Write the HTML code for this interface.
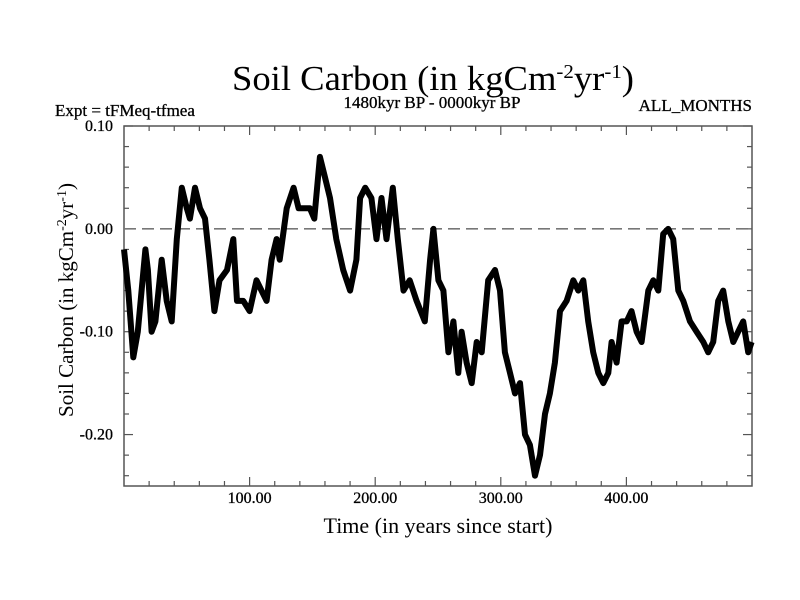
<!DOCTYPE html>
<html><head><meta charset="utf-8"><style>
body{margin:0;background:#fff}
svg{display:block;font-family:"Liberation Serif",serif}
</style></head><body>
<svg id="chart" width="800" height="600">
<text x="433" y="90" font-size="35" text-anchor="middle" textLength="402" lengthAdjust="spacingAndGlyphs">Soil Carbon (in kgCm<tspan dy="-12" font-size="20">-2</tspan><tspan dy="12">yr</tspan><tspan dy="-12" font-size="20">-1</tspan><tspan dy="12">)</tspan></text>
<text x="55" y="116" font-size="17" stroke="#000" stroke-width="0.3">Expt = tFMeq-tfmea</text>
<text x="432" y="108" font-size="17" text-anchor="middle" stroke="#000" stroke-width="0.3">1480kyr BP - 0000kyr BP</text>
<text x="752" y="111" font-size="17" text-anchor="end" stroke="#000" stroke-width="0.3">ALL_MONTHS</text>
<g id="axes"></g>
<g id="plot"></g>
<text x="438" y="533" font-size="22" text-anchor="middle">Time (in years since start)</text>
<text transform="translate(73,300) rotate(-90)" font-size="21" text-anchor="middle">Soil Carbon (in kgCm<tspan dy="-7" font-size="14">-2</tspan><tspan dy="7">yr</tspan><tspan dy="-7" font-size="14">-1</tspan><tspan dy="7">)</tspan></text>
</svg>
<script>
const times=[0,3.4,7.4,11,17,19,22,25,30,34,38,42,46,50,52.5,56.5,60.5,64.5,68,72,76,82,87,90,95,100,105.5,109.5,113.5,117.5,121.5,124,129.5,135,139,144,148,151.5,156,160,164,169,174.5,180,185,188,192,197,201,205,209,214,218,222.5,227.5,233,239.5,243.7,246.3,250.3,254.3,258.3,262.3,266.2,268.8,272.8,276.8,280.8,284.8,290,295.4,299.4,303.3,307.3,311.3,315.3,319.3,323.2,327.2,331.2,335.2,339.1,343.1,347.1,352.4,357.7,361.7,365.7,369.6,373.6,377.6,381.6,385.6,388.2,392.2,396.2,400.2,404.1,408.1,412.1,417.4,421.4,425.4,429.3,433.3,437.3,441.3,445.3,450.6,455.9,461.2,465.1,469.1,473.1,477.1,481.1,485.1,489,493,497,499.7];
const values=[-0.02,-0.06,-0.125,-0.10,-0.02,-0.04,-0.10,-0.09,-0.03,-0.07,-0.09,-0.01,0.04,0.02,0.01,0.04,0.02,0.01,-0.03,-0.08,-0.05,-0.04,-0.01,-0.07,-0.07,-0.08,-0.05,-0.06,-0.07,-0.03,-0.01,-0.03,0.02,0.04,0.02,0.02,0.02,0.01,0.07,0.05,0.03,-0.01,-0.04,-0.06,-0.03,0.03,0.04,0.03,-0.01,0.03,-0.01,0.04,-0.01,-0.06,-0.05,-0.07,-0.09,-0.03,0.0,-0.05,-0.06,-0.12,-0.09,-0.14,-0.10,-0.13,-0.15,-0.11,-0.12,-0.05,-0.04,-0.06,-0.12,-0.14,-0.16,-0.15,-0.20,-0.21,-0.24,-0.22,-0.18,-0.16,-0.13,-0.08,-0.07,-0.05,-0.06,-0.05,-0.09,-0.12,-0.14,-0.15,-0.14,-0.11,-0.13,-0.09,-0.09,-0.08,-0.10,-0.11,-0.06,-0.05,-0.06,-0.005,0.0,-0.01,-0.06,-0.07,-0.09,-0.10,-0.11,-0.12,-0.11,-0.07,-0.06,-0.09,-0.11,-0.10,-0.09,-0.12,-0.11];
const xTicks=[100,200,300,400];
const xTickLabels=["100.00","200.00","300.00","400.00"];
const yTicks=[0.10,0.00,-0.10,-0.20];
const yTickLabels=["0.10","0.00","-0.10","-0.20"];
const X0=124,X1=752,Y0=126,Y1=486,XMIN=0,XMAX=500,YMAX=0.10,YMIN=-0.25;
const xs=t=>X0+(t-XMIN)/(XMAX-XMIN)*(X1-X0);
const ys=v=>Y0+(YMAX-v)/(YMAX-YMIN)*(Y1-Y0);
const NS="http://www.w3.org/2000/svg";
const axes=document.getElementById('axes'),plot=document.getElementById('plot');
function mk(tag,attrs,parent){const e=document.createElementNS(NS,tag);for(const k in attrs)e.setAttribute(k,attrs[k]);parent.appendChild(e);return e;}
const frame=mk('rect',{x:X0,y:Y0,width:X1-X0,height:Y1-Y0,fill:'none',stroke:'#555','stroke-width':1.5},axes);


for(let t=20;t<XMAX;t+=20){const major=t%100===0;const L=major?9:5;
 const a=mk('line',{x1:xs(t),x2:xs(t),y1:Y1,y2:Y1-L,stroke:'#555','stroke-width':1.2},axes);
 
 
 const b=mk('line',{x1:xs(t),x2:xs(t),y1:Y0,y2:Y0+L,stroke:'#555','stroke-width':1.2},axes);
 
 }
for(let i=-12;i<=5;i++){const v=i*0.02;const major=i%5===0;const L=major?9:5;
 const a=mk('line',{x1:X0,x2:X0+L,y1:ys(v),y2:ys(v),stroke:'#555','stroke-width':1.2},axes);
 
 
 const b=mk('line',{x1:X1,x2:X1-L,y1:ys(v),y2:ys(v),stroke:'#555','stroke-width':1.2},axes);
 
 }
xTicks.forEach((t,i)=>{const e=mk('text',{x:xs(t),y:503,'font-size':16,'text-anchor':'middle',stroke:'#000','stroke-width':0.3},axes);e.textContent=xTickLabels[i];
 
 });
yTicks.forEach((v,i)=>{const e=mk('text',{x:113,y:ys(v)+5,'font-size':16,'text-anchor':'end',stroke:'#000','stroke-width':0.3},axes);e.textContent=yTickLabels[i];
 
 });
const zl=mk('line',{x1:X0,x2:X1,y1:ys(0),y2:ys(0),stroke:'#777','stroke-width':1.6,'stroke-dasharray':'12,6'},plot);


let d='';times.forEach((t,i)=>{d+=(i?'L':'M')+xs(t).toFixed(1)+','+ys(values[i]).toFixed(1);});
const p=mk('path',{d:d,fill:'none',stroke:'#000','stroke-width':6,'stroke-linejoin':'round'},plot);


</script>
</body></html>
